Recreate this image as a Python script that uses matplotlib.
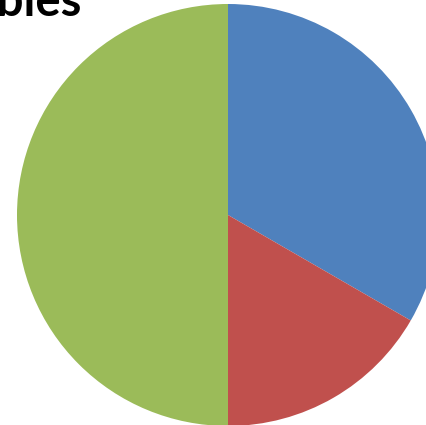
import matplotlib
matplotlib.use('Agg')
import matplotlib.pyplot as plt

# pie data (1/3, 1/6, 1/2)
labels = ['A', 'B', 'C']
values = [2, 1, 3]
colors = ['#4F81BD', '#C0504D', '#9BBB59']
title = 'Vegetables'

W, H = 427, 425
fig = plt.figure(figsize=(W / 100, H / 100), dpi=100)
ax = fig.add_axes([0, 0, 1, 1])

ax.pie(values, colors=colors, startangle=90, counterclock=False,
       center=(228, H - 215), radius=211, frame=True,
       wedgeprops={'linewidth': 0})
ax.set_xlim(0, W)
ax.set_ylim(0, H)
ax.axis('off')

# title is clipped at top-left in the original
fig.text(82 / W, 1 - 16 / H, title, ha='right', va='baseline',
         fontsize=34, fontweight='bold', family='Lato')

fig.savefig('out.png', dpi=100)
